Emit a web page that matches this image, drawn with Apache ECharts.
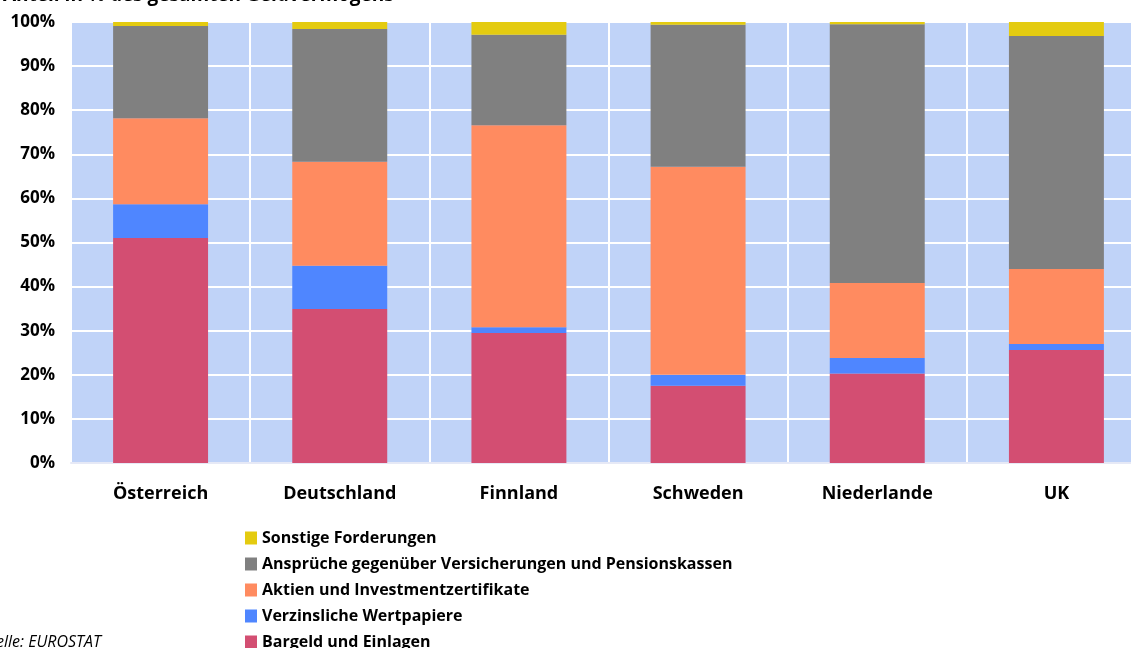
<!DOCTYPE html>
<html>
<head>
<meta charset="utf-8">
<style>
  html, body { margin: 0; padding: 0; background: #ffffff; }
  #chart { width: 1131px; height: 648px; }
</style>
<script src="https://cdn.jsdelivr.net/npm/echarts@6/dist/echarts.min.js"></script>
</head>
<body>
<div id="chart"></div>
<script>
// Länder
const countries = ['Österreich', 'Deutschland', 'Finnland', 'Schweden', 'Niederlande', 'UK'];

// Anteile in % des gesamten Geldvermögens, je Anlageform
const bargeld      = [51.0, 34.9, 29.5, 17.5, 20.3, 25.6];
const verzinslich  = [7.7, 9.8, 1.3, 2.5, 3.5, 1.4];
const aktien       = [19.5, 23.6, 45.8, 47.2, 17.0, 17.0];
const ansprueche   = [20.9, 30.1, 20.5, 32.2, 58.7, 52.8];
const sonstige     = [0.9, 1.6, 2.9, 0.6, 0.5, 3.2];

const seriesNames = [
  'Bargeld und Einlagen',
  'Verzinsliche Wertpapiere',
  'Aktien und Investmentzertifikate',
  'Ansprüche gegenüber Versicherungen und Pensionskassen',
  'Sonstige Forderungen'
];
const seriesData = [bargeld, verzinslich, aktien, ansprueche, sonstige];
const seriesColors = ['#D34E72', '#4F86FF', '#FF8B60', '#808080', '#E4CB10'];

const FONT = '"Open Sans", "DejaVu Sans", sans-serif';

const chart = echarts.init(document.getElementById('chart'), null, { renderer: 'canvas' });

chart.setOption({
  animation: false,
  backgroundColor: '#ffffff',
  textStyle: { fontFamily: FONT },
  title: {
    text: 'Anteil in % des gesamten Geldvermögens',
    left: -2,
    top: -19,
    textStyle: { fontFamily: FONT, fontSize: 19, fontWeight: 'bold', color: '#000' }
  },
  grid: {
    left: 71,
    top: 22,
    width: 1075,
    height: 441,
    outerBoundsMode: 'none',
    show: true,
    backgroundColor: '#C0D3F8',
    borderWidth: 0
  },
  legend: {
    orient: 'vertical',
    left: 240,
    top: 524,
    height: 200,
    itemWidth: 12,
    itemHeight: 13,
    itemGap: 8,
    icon: 'rect',
    data: seriesNames.slice().reverse(),
    textStyle: { fontFamily: FONT, fontSize: 16, fontWeight: 'bold', color: '#000', lineHeight: 18 }
  },
  xAxis: {
    type: 'category',
    data: countries,
    axisTick: { show: false },
    axisLine: { show: true, lineStyle: { color: '#E6E9F6', width: 2 } },
    axisLabel: { fontFamily: FONT, fontSize: 18, fontWeight: 'bold', color: '#000', margin: 22 },
    splitLine: { show: true, lineStyle: { color: '#ffffff', width: 2 } }
  },
  yAxis: {
    type: 'value',
    min: 0,
    max: 100,
    interval: 10,
    axisLine: { show: false },
    axisTick: { show: false },
    axisLabel: {
      formatter: '{value}%',
      fontFamily: FONT, fontSize: 17, fontWeight: 'bold', color: '#000', margin: 16
    },
    splitLine: { show: true, lineStyle: { color: '#ffffff', width: 2 } }
  },
  graphic: [{
    type: 'text',
    right: 1030,
    top: 634,
    style: {
      text: 'Quelle: EUROSTAT',
      font: 'italic 16px ' + FONT,
      fill: '#000'
    }
  }],
  series: seriesNames.map((name, i) => ({
    name: name,
    type: 'bar',
    stack: 'total',
    barWidth: '53%',
    data: seriesData[i],
    itemStyle: { color: seriesColors[i] }
  }))
});
</script>
</body>
</html>
